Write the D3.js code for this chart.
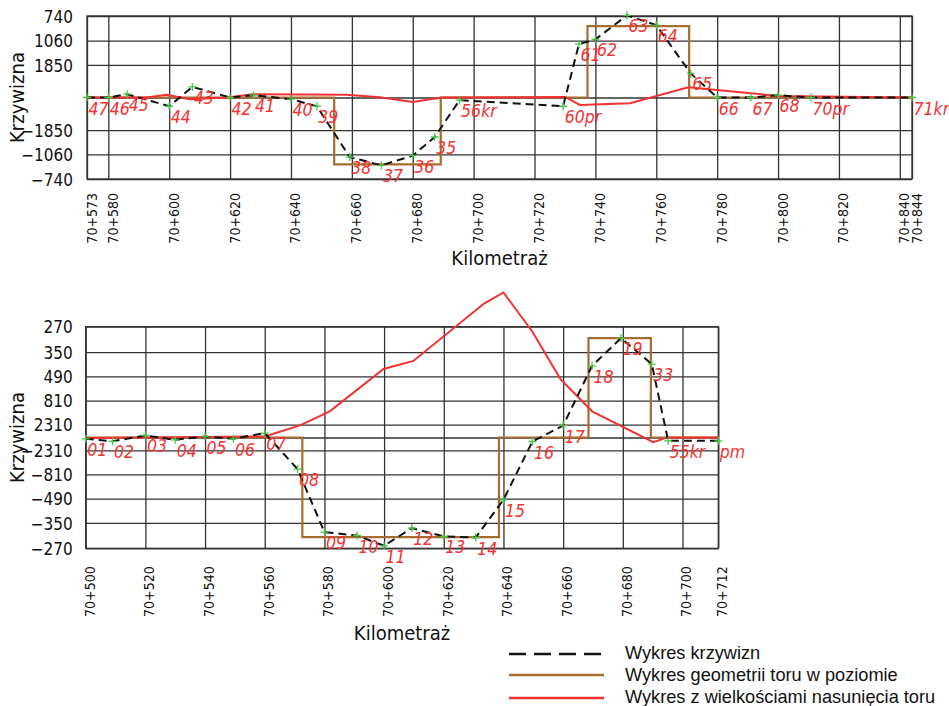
<!DOCTYPE html>
<html><head><meta charset="utf-8">
<script src="https://cdn.jsdelivr.net/npm/d3@7"></script>
<style>body{margin:0;background:#fff;} svg{display:block}</style>
</head><body>
<svg id="c" width="949" height="706"></svg>
<script>
// ---------------- DATA ----------------
// curvature values are 1000/R (1/km); shift values in mm
const topKm = [573,580,586.2,600,607.6,620,627.7,640,648.5,659.3,669.7,680,687.2,695.4,729.4,734.6,740,750.4,760,771.3,780,791.1,800,810.8,844];
const topCurv = [0,0,0.055,-0.145,0.176,0,0.038,-0.028,-0.145,-0.987,-1.125,-0.964,-0.655,-0.045,-0.145,0.886,0.964,1.363,1.201,0.399,0,0,0.038,0,0];
const topPointLabels = ["47","46","45","44","43","42","41","40","39","38","37","36","35","56kr","60pr","61","62","63","64","65","66","67","68","70pr","71kr"];
const topGeomKm = [573,654.2,654.2,689.2,689.2,737.4,737.4,770.8,770.8,844];
const topGeomCurv = [0,0,-1.108,-1.108,0,0,1.185,1.185,0,0];
const topShiftKm = [573,592.6,599.2,606.8,618.9,627.5,658.3,669.3,680,689.5,730,734.9,751.4,770.5,800,844];
const topShift = [0,0,2.6,-1.7,0,3.3,2.6,0.3,-4.3,0,0.5,-7.3,-5.6,10,1.5,0];
const topXTicks = [573,580,600,620,640,660,680,700,720,740,760,780,800,820,840,844];
const topRTicks = [740,1060,1850,-1850,-1060,-740];

const botKm = [500,509,520,530,540,549.5,560,571,580,590.9,600,609.3,620,630.7,640,649.7,660,669.7,679.4,689.7,695.2,712];
const botCurv = [-0.043,-0.127,0.067,-0.077,0.033,-0.043,0.147,-1.056,-3.162,-3.276,-3.620,-3.029,-3.309,-3.343,-2.083,-0.134,0.398,2.397,3.323,2.454,-0.110,-0.110];
const botPointLabels = ["01","02","03","04","05","06","07","08","09","10","11","12","13","14","15","16","17","18","19","33","55kr","pm"];
const botGeomKm = [500,572.6,572.6,638.5,638.5,668.5,668.5,689.4,689.4,712];
const botGeomCurv = [0,0,-3.329,-3.329,0,0,3.323,3.323,0,0];
const botShiftKm = [500,560,571.8,581.8,599.8,609.8,633.5,640,649.7,659.1,669.7,690.2,694.7,712];
const botShift = [-0.5,1,12,26,68,76,133,144,105,58,26,-4.6,0,0];
const botXTicks = [500,520,540,560,580,600,620,640,660,680,700,712];
const botRTicks = [270,350,490,810,2310,-2310,-810,-490,-350,-270];

const legendItems = ["Wykres krzywizn","Wykres geometrii toru w poziomie","Wykres z wielkościami nasunięcia toru"];

// ---------------- STYLE ----------------
const C_GRID = "#333333", C_BROWN = "#a76c30", C_RED = "#f23232", C_GREEN = "#44c944";
const FONT = "'DejaVu Sans Condensed','DejaVu Sans',sans-serif";

const svg = d3.select("#c");

function drawChart(o) {
  const x = d3.scaleLinear().domain([o.xTicks[0], o.xTicks[o.xTicks.length-1]]).range([o.left, o.right]);
  const kMax = 1000 / Math.min(...o.rTicks.map(Math.abs));
  const y = d3.scaleLinear().domain([-kMax, kMax]).range([o.bottom, o.top]);
  const ys = d3.scaleLinear().domain([-o.shiftMax, o.shiftMax]).range([o.bottom, o.top]);
  const g = svg.append("g");
  const W = o.right - o.left, H = o.bottom - o.top;

  // Y axis with grid
  const yVals = o.rTicks.map(r => 1000 / r).concat([0]);
  const yLab = new Map(o.rTicks.map(r => [1000 / r, String(r).replace("-", "\u2212")]));
  const ya = g.append("g").attr("transform", `translate(${o.left},0)`)
    .call(d3.axisLeft(y).tickValues(yVals).tickSize(-W).tickPadding(o.yPad)
      .tickFormat(d => yLab.has(d) ? yLab.get(d) : ""));
  ya.select(".domain").remove();
  ya.selectAll("line").attr("stroke", C_GRID).attr("stroke-width", 1.3);
  ya.selectAll("text").attr("font-family", FONT).attr("font-size", 17).attr("fill", "#111")
    .attr("dy", "0.36em");

  // X axis with grid + rotated labels
  const xa = g.append("g").attr("transform", `translate(0,${o.bottom})`)
    .call(d3.axisBottom(x).tickValues(o.xTicks).tickSize(-H).tickFormat(d => "70+" + d));
  xa.select(".domain").remove();
  xa.selectAll("line").attr("stroke", C_GRID).attr("stroke-width", 1.3);
  xa.selectAll("text").attr("font-family", FONT).attr("font-size", 14).attr("fill", "#111")
    .attr("x", null).attr("y", null).attr("dy", null)
    .attr("text-anchor", "end")
    .attr("transform", `translate(${o.xlDx},${o.xlDy}) rotate(-90)`);

  // frame
  g.append("rect").attr("x", o.left).attr("y", o.top).attr("width", W).attr("height", H)
    .attr("fill", "none").attr("stroke", C_GRID).attr("stroke-width", 1.3);

  // geometry (brown)
  const geom = o.geomKm.map((k, i) => [k, o.geomCurv[i]]);
  g.append("path").datum(geom).attr("fill", "none").attr("stroke", C_BROWN).attr("stroke-width", 2.2)
    .attr("d", d3.line().x(d => x(d[0])).y(d => y(d[1])));

  // shift (red)
  const sh = o.shiftKm.map((k, i) => [k, o.shift[i]]);
  g.append("path").datum(sh).attr("fill", "none").attr("stroke", C_RED).attr("stroke-width", 2)
    .attr("d", d3.line().x(d => x(d[0])).y(d => ys(d[1])));

  // curvature (black dashed)
  const cv = o.km.map((k, i) => [k, o.curv[i], o.labels[i]]);
  g.append("path").datum(cv).attr("fill", "none").attr("stroke", "#111").attr("stroke-width", 2)
    .attr("stroke-dasharray", "8,5")
    .attr("d", d3.line().x(d => x(d[0])).y(d => y(d[1])));

  // markers
  g.selectAll(".mk").data(cv).join("path")
    .attr("d", d => { const px = x(d[0]), py = y(d[1]);
      return `M${px-4},${py}H${px+4}M${px},${py-4}V${py+4}`; })
    .attr("stroke", C_GREEN).attr("stroke-width", 1.3).attr("fill", "none");

  // point labels
  g.selectAll(".pl").data(cv).join("text")
    .attr("x", d => x(d[0]) + 1.5).attr("y", d => y(d[1]) + 17)
    .attr("font-family", FONT).attr("font-weight", 200)
    .attr("font-style", "italic").attr("font-size", 17.5).attr("fill", C_RED)
    .text(d => d[2]);

  // axis titles
  g.append("text").attr("x", (o.left + o.right) / 2).attr("y", o.xTitleY)
    .attr("text-anchor", "middle").attr("font-family", FONT).attr("font-size", 20).attr("fill", "#111")
    .text("Kilometraż");
  g.append("text").attr("transform", `translate(24,${(o.top + o.bottom) / 2}) rotate(-90)`)
    .attr("text-anchor", "middle").attr("font-family", FONT).attr("font-size", 20).attr("fill", "#111")
    .text("Krzywizna");
}

drawChart({
  left: 87, right: 912, top: 16, bottom: 179, yPad: 14, xlDx: 9, xlDy: 14, xTitleY: 265, shiftMax: 80,
  xTicks: topXTicks, rTicks: topRTicks, km: topKm, curv: topCurv, labels: topPointLabels,
  geomKm: topGeomKm, geomCurv: topGeomCurv, shiftKm: topShiftKm, shift: topShift
});
drawChart({
  left: 85.7, right: 718.3, top: 326.7, bottom: 548.3, yPad: 13, xlDx: 8.5, xlDy: 18, xTitleY: 640, shiftMax: 110,
  xTicks: botXTicks, rTicks: botRTicks, km: botKm, curv: botCurv, labels: botPointLabels,
  geomKm: botGeomKm, geomCurv: botGeomCurv, shiftKm: botShiftKm, shift: botShift
});

// legend
const lg = svg.append("g");
const lgStyles = [
  {stroke: "#111", w: 2.6, dash: "17,8"},
  {stroke: C_BROWN, w: 2.6, dash: null},
  {stroke: C_RED, w: 2.6, dash: null}
];
const lgY = [654, 675, 698];
const lgTextY = [659, 680.5, 702.5];
lg.selectAll("line").data(legendItems).join("line")
  .attr("x1", 509).attr("x2", 604).attr("y1", (d, i) => lgY[i]).attr("y2", (d, i) => lgY[i])
  .attr("stroke", (d, i) => lgStyles[i].stroke).attr("stroke-width", (d, i) => lgStyles[i].w)
  .attr("stroke-dasharray", (d, i) => lgStyles[i].dash);
lg.selectAll("text").data(legendItems).join("text")
  .attr("x", 625).attr("y", (d, i) => lgTextY[i])
  .attr("font-family", "'Liberation Sans',Arial,sans-serif").attr("font-size", 18.2).attr("fill", "#111")
  .text(d => d);
</script>
</body></html>
